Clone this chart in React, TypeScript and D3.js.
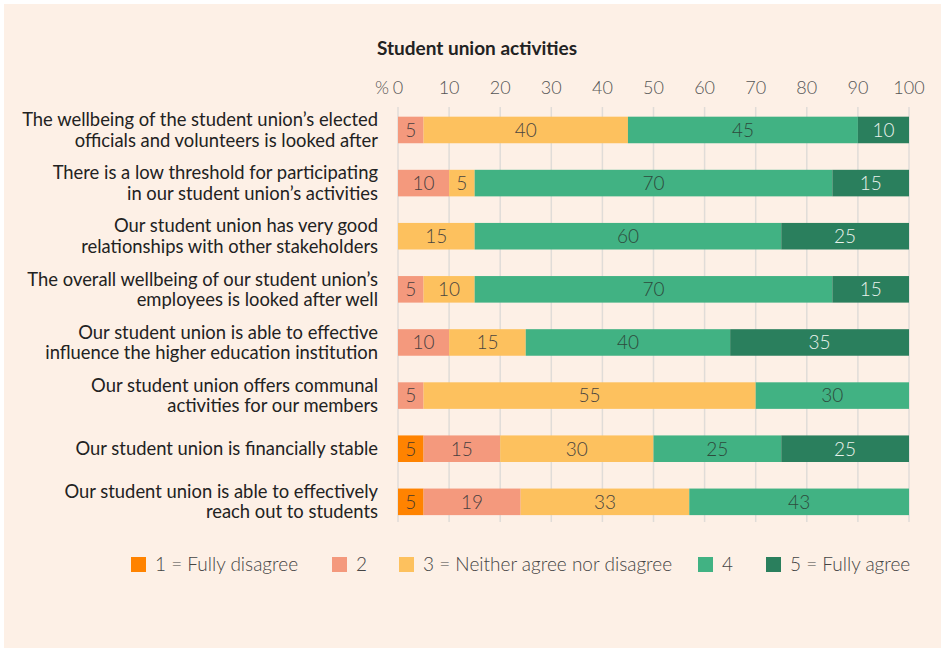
import * as d3 from 'd3'

const title = 'Student union activities'

const statements: string[][] = [
  ['The wellbeing of the student union’s elected', 'officials and volunteers is looked after'],
  ['There is a low threshold for participating', 'in our student union’s activities'],
  ['Our student union has very good', 'relationships with other stakeholders'],
  ['The overall wellbeing of our student union’s', 'employees is looked after well'],
  ['Our student union is able to effective', 'influence the higher education institution'],
  ['Our student union offers communal', 'activities for our members'],
  ['Our student union is financially stable'],
  ['Our student union is able to effectively', 'reach out to students'],
]

const levels = ['1 = Fully disagree', '2', '3 = Neither agree nor disagree', '4', '5 = Fully agree']

// share (%) per answer level, one entry per statement
const fullyDisagree = [0, 0, 0, 0, 0, 0, 5, 5]
const disagree = [5, 10, 0, 5, 10, 5, 15, 19]
const neutral = [40, 5, 15, 10, 15, 65, 30, 33]
const agree = [45, 70, 60, 70, 40, 30, 25, 43]
const fullyAgree = [10, 15, 25, 15, 35, 0, 25, 0]

// the source prints 55 on the neutral segment of row 6, though it is drawn 65 wide
const neutralPrinted = [40, 5, 15, 10, 15, 55, 30, 33]

const xTicks = [0, 10, 20, 30, 40, 50, 60, 70, 80, 90, 100]

const colors = ['#ff8300', '#f4997d', '#fdc15e', '#41b283', '#2a7f5d']
const labelColors = ['#4a3a2a', '#4a4040', '#4a4540', '#2d4a3c', '#e9f2ec']

const W = 944
const H = 650

export default function App() {
  const series = [fullyDisagree, disagree, neutral, agree, fullyAgree]
  const printed = [fullyDisagree, disagree, neutralPrinted, agree, fullyAgree]
  const rows = statements.map((_, i) => String(i))

  const x = d3.scaleLinear().domain([0, 100]).range([398, 909])
  const y = d3.scaleBand().domain(rows).range([103.4, 528.4]).paddingInner(0.5).paddingOuter(0.25)

  const legendX = [131, 332, 399, 698, 766]
  const lineGap = 20.4

  return (
    <svg width={W} height={H} style={{ position: 'absolute', left: 0, top: 0 }} fontFamily="Lato">
      <rect x={0} y={0} width={W} height={H} fill="#ffffff" />
      <rect x={4} y={4} width={937} height={644} fill="#fdf0e6" />

      <text x={477} y={55} textAnchor="middle" fontSize={19} fontWeight={700} fill="#222">
        {title}
      </text>

      {/* axis labels */}
      <text x={389} y={94} textAnchor="end" fontSize={18} fontWeight={300} fill="#555">
        %
      </text>
      {xTicks.map((t) => (
        <text key={t} x={x(t)} y={94} textAnchor="middle" fontSize={18} fontWeight={300} fill="#555">
          {t}
        </text>
      ))}

      {/* gridlines */}
      {xTicks.map((t) => (
        <line key={t} x1={x(t)} x2={x(t)} y1={107} y2={522} stroke="#e0dcd8" strokeWidth={1.5} />
      ))}

      {/* bars */}
      {rows.map((r, i) => {
        let acc = 0
        const by = y(r) as number
        const bh = y.bandwidth()
        return (
          <g key={r}>
            {series.map((s, k) => {
              const v = s[i]
              const x0 = acc
              acc += v
              if (!v) return null
              const x1 = acc
              return (
                <g key={k}>
                  <rect x={x(x0)} y={by} width={x(x1) - x(x0)} height={bh} fill={colors[k]} />
                  <text
                    x={(x(x0) + x(x1)) / 2}
                    y={by + bh / 2}
                    dy="0.36em"
                    textAnchor="middle"
                    fontSize={19}
                    fontWeight={300}
                    fill={labelColors[k]}
                  >
                    {printed[k][i]}
                  </text>
                </g>
              )
            })}
          </g>
        )
      })}

      {/* category labels, one text per line */}
      {statements.map((lines, i) => {
        const cy = (y(String(i)) as number) + y.bandwidth() / 2
        const top = cy - ((lines.length - 1) * lineGap) / 2
        return lines.map((l, j) => (
          <text
            key={`${i}-${j}`}
            x={378}
            y={top + j * lineGap}
            dy="0.35em"
            textAnchor="end"
            fontSize={18.4}
            fill="#222"
          >
            {l}
          </text>
        ))
      })}

      {/* legend */}
      {levels.map((l, k) => (
        <g key={l} transform={`translate(${legendX[k]},557)`}>
          <rect width={15} height={15} fill={colors[k]} />
          <text x={24} y={7.5} dy="0.36em" fontSize={19} fontWeight={300} fill="#444">
            {l}
          </text>
        </g>
      ))}
    </svg>
  )
}
